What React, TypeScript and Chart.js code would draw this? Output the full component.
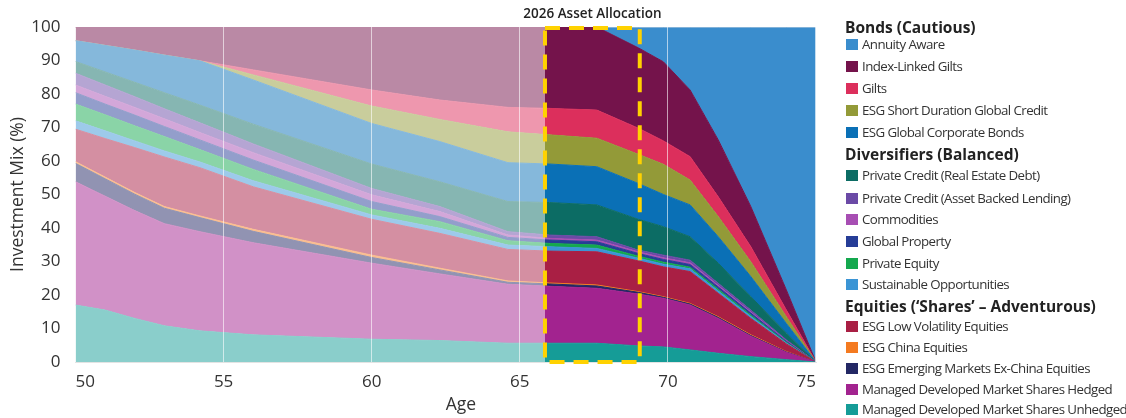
import React, { useEffect, useRef } from 'react';
import { Chart, registerables } from 'chart.js';

Chart.register(...registerables);

// Age knots (x values)
const ages = [50, 51, 52, 53, 54.2, 56, 60, 62.3, 64.6, 66, 67.6, 69, 69.85, 70.75, 71.7, 72.8, 74, 75];

// Series values (% of mix), stacked bottom-up
const unhedged = [17.0, 15.5, 13.0, 10.8, 9.3, 8.1, 6.8, 6.4, 5.6, 5.6, 5.6, 4.8, 4.5, 3.6, 2.6, 1.6, 0.7, 0];
const hedged = [36.8, 34.0, 32.2, 30.5, 29.6, 27.5, 22.7, 19.9, 17.6, 17.0, 16.4, 15.5, 14.5, 13.4, 10.4, 6.1, 2.2, 0];
const emExChina = [5.5, 5.2, 4.9, 4.6, 4.2, 3.4, 1.7, 1.2, 0.6, 0.7, 0.7, 0.5, 0.3, 0.3, 0.3, 0.2, 0.1, 0];
const china = [0.5, 0.5, 0.5, 0.5, 0.5, 0.6, 0.7, 0.5, 0.4, 0.3, 0.3, 0.2, 0.2, 0.2, 0.2, 0.2, 0.1, 0];
const lowVol = [9.7, 11.5, 13.4, 14.8, 14.4, 12.7, 10.7, 10.4, 9.4, 9.5, 9.9, 9.2, 8.9, 9.5, 7.0, 4.9, 2.3, 0];
const sustOpp = [2.5, 2.3, 2.0, 1.8, 1.7, 1.8, 1.3, 1.5, 1.3, 1.3, 1.0, 0.8, 0.8, 0.8, 0.7, 0.6, 0.25, 0];
const privEquity = [5.0, 4.8, 4.5, 4.3, 3.7, 3.4, 1.7, 2.0, 1.3, 1.0, 1.0, 0.6, 0.6, 0.5, 0.5, 0.4, 0.2, 0];
const globalProp = [3.4, 3.2, 3.2, 3.0, 2.9, 2.8, 2.3, 1.5, 1.0, 1.0, 1.0, 0.8, 0.8, 0.8, 0.7, 0.6, 0.3, 0];
const commodities = [2.3, 2.3, 2.3, 2.3, 2.2, 2.2, 2.0, 1.5, 0.7, 0.5, 0.5, 0.5, 0.5, 0.5, 0.4, 0.3, 0.15, 0];
const assetBacked = [3.5, 3.4, 3.2, 3.0, 2.9, 2.6, 1.9, 1.5, 1.0, 1.0, 1.0, 0.5, 0.8, 0.8, 0.7, 0.6, 0.3, 0];
const realEstateDebt = [3.5, 3.9, 4.3, 4.8, 5.3, 5.9, 7.3, 7.4, 9.0, 9.7, 9.5, 9.2, 8.5, 7.0, 6.0, 4.0, 2.0, 0];
const corpBonds = [6.2, 7.9, 9.6, 11.2, 13.2, 13.2, 12.1, 12.0, 11.6, 11.5, 11.4, 10.7, 9.6, 9.5, 7.9, 6.0, 2.9, 0];
const shortDuration = [0, 0, 0, 0, 0, 1.5, 5.2, 6.6, 9.2, 8.7, 8.5, 8.7, 9.0, 7.4, 6.0, 4.4, 2.0, 0];
const gilts = [0, 0, 0, 0, 0, 1.5, 4.8, 5.8, 7.3, 7.9, 8.4, 7.8, 7.0, 7.0, 5.9, 4.5, 2.0, 0];
const indexLinked = [4.1, 5.5, 6.9, 8.4, 10.1, 12.8, 18.8, 21.8, 24.0, 24.3, 24.8, 24.0, 23.6, 19.9, 17.0, 12.0, 6.0, 0];
const annuity = [0, 0, 0, 0, 0, 0, 0, 0, 0, 0, 0, 6.2, 10.4, 18.8, 33.7, 53.6, 78.5, 100];

const yTicks = [0, 10, 20, 30, 40, 50, 60, 70, 80, 90, 100];
const xTicks = [50, 55, 60, 65, 70, 75];

const highlightStart = 65.85;
const highlightEnd = 69.05;

type Series = { label: string; data: number[]; color: string };

// bottom-up stacking order
const series: Series[] = [
  { label: 'Managed Developed Market Shares Unhedged', data: unhedged, color: '#159c97' },
  { label: 'Managed Developed Market Shares Hedged', data: hedged, color: '#a2238f' },
  { label: 'ESG Emerging Markets Ex-China Equities', data: emExChina, color: '#232764' },
  { label: 'ESG China Equities', data: china, color: '#f47a20' },
  { label: 'ESG Low Volatility Equities', data: lowVol, color: '#a91f44' },
  { label: 'Sustainable Opportunities', data: sustOpp, color: '#3b95d5' },
  { label: 'Private Equity', data: privEquity, color: '#14a84e' },
  { label: 'Global Property', data: globalProp, color: '#263d97' },
  { label: 'Commodities', data: commodities, color: '#a74eb3' },
  { label: 'Private Credit (Asset Backed Lending)', data: assetBacked, color: '#6b4aa6' },
  { label: 'Private Credit (Real Estate Debt)', data: realEstateDebt, color: '#0c6c64' },
  { label: 'ESG Global Corporate Bonds', data: corpBonds, color: '#0a70b6' },
  { label: 'ESG Short Duration Global Credit', data: shortDuration, color: '#939a38' },
  { label: 'Gilts', data: gilts, color: '#dc2f5c' },
  { label: 'Index-Linked Gilts', data: indexLinked, color: '#74134b' },
  { label: 'Annuity Aware', data: annuity, color: '#3a8dcd' },
];

const legendGroups = [
  { title: 'Bonds (Cautious)', items: ['Annuity Aware', 'Index-Linked Gilts', 'Gilts', 'ESG Short Duration Global Credit', 'ESG Global Corporate Bonds'] },
  { title: 'Diversifiers (Balanced)', items: ['Private Credit (Real Estate Debt)', 'Private Credit (Asset Backed Lending)', 'Commodities', 'Global Property', 'Private Equity', 'Sustainable Opportunities'] },
  { title: 'Equities (\u2018Shares\u2019 \u2013 Adventurous)', items: ['ESG Low Volatility Equities', 'ESG China Equities', 'ESG Emerging Markets Ex-China Equities', 'Managed Developed Market Shares Hedged', 'Managed Developed Market Shares Unhedged'] },
];

const legendRowCenters = [27, 44, 66, 88, 110, 132, 154, 175, 198, 219, 241, 263, 284, 306, 326, 347, 368, 389, 409];

function fade(hex: string, amt = 0.5): string {
  const n = parseInt(hex.slice(1), 16);
  const r = (n >> 16) & 255, g = (n >> 8) & 255, b = n & 255;
  const m = (c: number) => Math.round(c + (255 - c) * amt);
  return `rgb(${m(r)},${m(g)},${m(b)})`;
}

function splitColor(full: string, faded: string) {
  return (ctx: any) => {
    const chart = ctx.chart;
    const area = chart.chartArea;
    const xs = chart.scales && chart.scales.x;
    if (!area || !xs) return faded;
    const g = chart.ctx.createLinearGradient(area.left, 0, area.right, 0);
    let p = (xs.getPixelForValue(highlightStart) - area.left) / (area.right - area.left);
    p = Math.min(Math.max(p, 0), 1);
    g.addColorStop(0, faded);
    g.addColorStop(p, faded);
    g.addColorStop(p, full);
    g.addColorStop(1, full);
    return g;
  };
}

const highlightPlugin = {
  id: 'highlightBox',
  afterDraw(chart: any) {
    const { ctx, scales, chartArea } = chart;
    const x0 = scales.x.getPixelForValue(highlightStart);
    const x1 = scales.x.getPixelForValue(highlightEnd);
    const top = scales.y.getPixelForValue(100) + 1;
    const bottom = scales.y.getPixelForValue(0);
    // thin light right border of the plot
    ctx.save();
    ctx.strokeStyle = 'rgba(255,255,255,0.7)';
    ctx.lineWidth = 1;
    ctx.beginPath();
    ctx.moveTo(chartArea.right - 0.5, chartArea.top);
    ctx.lineTo(chartArea.right - 0.5, chartArea.bottom);
    ctx.stroke();
    ctx.restore();
    ctx.save();
    ctx.strokeStyle = '#ffd200';
    ctx.lineWidth = 4;
    ctx.setLineDash([15, 9]);
    ctx.strokeRect(x0, top, x1 - x0, bottom - top);
    ctx.restore();
    ctx.save();
    ctx.fillStyle = '#222';
    ctx.textAlign = 'center';
    ctx.textBaseline = 'middle';
    ctx.font = '600 13.5px "Open Sans"';
    ctx.fillText('2026 Asset Allocation', (x0 + x1) / 2, 14);
    ctx.font = '17.5px "Open Sans"';
    ctx.fillStyle = '#333';
    ctx.fillText('Age', 461, 405);
    ctx.restore();
  },
};

export default function App() {
  const canvasRef = useRef<HTMLCanvasElement | null>(null);

  useEffect(() => {
    if (!canvasRef.current) return;
    const datasets = series.map((s, i) => {
      const faded = fade(s.color);
      const isTop = i === series.length - 1;
      return {
        label: s.label,
        data: ages.map((a, j) => ({ x: a, y: s.data[j] })),
        backgroundColor: splitColor(s.color, faded),
        borderColor: isTop ? splitColor('#c9d6e4', '#9a5c86') : splitColor(s.color, faded),
        borderWidth: 1,
        pointRadius: 0,
        pointHoverRadius: 0,
        tension: 0,
        fill: i === 0 ? 'origin' : '-1',
      };
    });

    const chart = new Chart(canvasRef.current, {
      type: 'line',
      data: { datasets: datasets as any },
      plugins: [highlightPlugin],
      options: {
        responsive: false,
        animation: false,
        events: [],
        layout: { padding: { left: 0, right: 310, top: 27, bottom: 0 } },
        plugins: {
          legend: { display: false },
          tooltip: { enabled: false },
          title: { display: false },
        },
        scales: {
          x: {
            type: 'linear',
            min: 50,
            max: 75,
            afterFit: (scale: any) => { scale.height = 56; },
            afterBuildTicks: (scale: any) => { scale.ticks = xTicks.map((v) => ({ value: v })); },
            ticks: {
              padding: 10,
              align: 'inner',
              color: '#333',
              font: { family: 'Open Sans', size: 17 },
              maxRotation: 0,
            },
            grid: {
              z: 1,
              drawTicks: false,
              lineWidth: 1,
              color: (ctx: any) => (ctx.tick && (ctx.tick.value === 50 || ctx.tick.value === 75) ? 'rgba(0,0,0,0)' : 'rgba(255,255,255,0.6)'),
            },
            border: { display: true, color: '#e3e3e3', width: 1, z: 1 },
            title: { display: false },
          },
          y: {
            type: 'linear',
            stacked: true,
            min: 0,
            max: 100,
            afterFit: (scale: any) => { scale.width = 75.5; },
            afterBuildTicks: (scale: any) => { scale.ticks = yTicks.map((v) => ({ value: v })); },
            ticks: {
              padding: 15,
              color: '#333',
              font: { family: 'Open Sans', size: 17 },
            },
            grid: { display: false, drawTicks: false },
            border: { display: false },
            title: {
              display: true,
              text: 'Investment Mix (%)',
              color: '#333',
              font: { family: 'Open Sans', size: 17.5 },
              padding: { top: 8, bottom: 4 },
            },
          },
        },
      },
    });
    return () => chart.destroy();
  }, []);

  let row = 0;
  const rows: React.ReactNode[] = [];
  const colorOf = (label: string) => (series.find((s) => s.label === label) || { color: '#000' }).color;
  legendGroups.forEach((g, gi) => {
    const cy = legendRowCenters[row++];
    rows.push(
      <div key={'h' + gi} style={{ position: 'absolute', left: 845, top: cy - 10, height: 20, lineHeight: '20px', fontWeight: 700, fontSize: 15.5, color: '#222', whiteSpace: 'nowrap' }}>
        {g.title}
      </div>
    );
    g.items.forEach((it, ii) => {
      const c = legendRowCenters[row++];
      rows.push(
        <div key={'i' + gi + '-' + ii} style={{ position: 'absolute', left: 846, top: c - 9, height: 18, lineHeight: '18px', fontSize: 13.3, letterSpacing: '-0.58px', color: '#333', whiteSpace: 'nowrap' }}>
          <span style={{ position: 'absolute', left: 0, top: 4, width: 12, height: 11, background: colorOf(it) }} />
          <span style={{ position: 'absolute', left: 16 }}>{it}</span>
        </div>
      );
    });
  });

  return (
    <div style={{ position: 'absolute', left: 0, top: 0, width: 1126, height: 418, background: '#fff', overflow: 'hidden', fontFamily: '"Open Sans", sans-serif' }}>
      <canvas ref={canvasRef} width={1126} height={418} style={{ position: 'absolute', left: 0, top: 0, width: 1126, height: 418 }} />
      {rows}
    </div>
  );
}
